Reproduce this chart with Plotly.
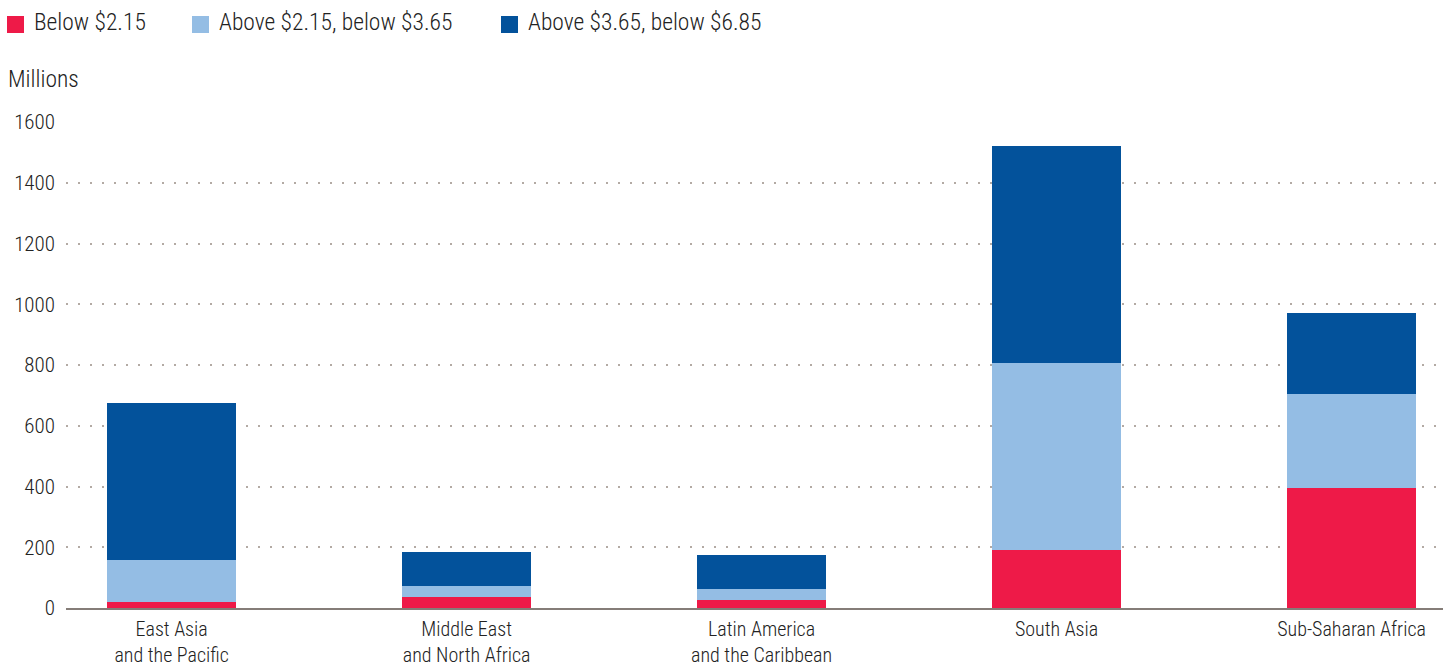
import plotly.graph_objects as go

categories = ["East Asia<br>and the Pacific", "Middle East<br>and North Africa",
              "Latin America<br>and the Caribbean", "South Asia", "Sub-Saharan Africa"]
below_215 = [20, 37, 27, 192, 394]
between_215_365 = [139, 36, 37, 616, 309]
between_365_685 = [517, 112, 112, 712, 267]

series_names = ["Below $2.15", "Above $2.15, below $3.65", "Above $3.65, below $6.85"]
series_colors = ["#EE1A48", "#94BDE4", "#03529B"]
y_ticks = [0, 200, 400, 600, 800, 1000, 1200, 1400, 1600]

FONT = "Roboto Condensed, Roboto, Liberation Sans Narrow, sans-serif"
TXT = "#222222"

W, H = 1443, 666
ML, MR, MT, MB = 66, 0, 122, 58
PW, PH = W - ML - MR, H - MT - MB


def px_x(px):
    return (px - ML) / PW


def px_y(py):
    return (H - MB - py) / PH


fig = go.Figure()
for name, vals, col in zip(series_names, [below_215, between_215_365, between_365_685], series_colors):
    fig.add_trace(go.Bar(x=categories, y=vals, name=name,
                         marker=dict(color=col, line=dict(width=0)), showlegend=False))

# manual legend (squares + labels) to match the reference spacing
legend_x = [7, 192, 501]
sq = 17
shapes = []
annotations = []
for lx, name, col in zip(legend_x, series_names, series_colors):
    shapes.append(dict(type="rect", xref="paper", yref="paper",
                       x0=px_x(lx), x1=px_x(lx + sq), y0=px_y(33), y1=px_y(16),
                       fillcolor=col, line=dict(width=0)))
    annotations.append(dict(text=name, xref="paper", yref="paper", x=px_x(lx + 25), y=px_y(22),
                            xanchor="left", yanchor="middle", showarrow=False,
                            font=dict(size=23.5, color=TXT)))
annotations.append(dict(text="Millions", xref="paper", yref="paper", x=px_x(6), y=px_y(79),
                        xanchor="left", yanchor="middle", showarrow=False,
                        font=dict(size=23.5, color=TXT)))

fig.update_layout(
    barmode="stack",
    bargap=0.563,
    width=W, height=H,
    margin=dict(l=ML, r=MR, t=MT, b=MB, autoexpand=False),
    paper_bgcolor="white", plot_bgcolor="white",
    font=dict(family=FONT, size=21, color=TXT, weight=300),
    showlegend=False,
    xaxis=dict(type="category", range=[-0.358, 4.31], showgrid=False, automargin=False,
               showline=True, linecolor="#857d78", linewidth=2, ticks="",
               tickfont=dict(size=20), ticklabelstandoff=2, fixedrange=True),
    yaxis=dict(range=[0, 1600], tickvals=y_ticks, showgrid=True, gridcolor="#b3aaa4", automargin=False,
               griddash="2px,10px", gridwidth=2, zeroline=False, showline=False, ticks="",
               ticklabelstandoff=10, tickfont=dict(size=21)),
    shapes=shapes,
    annotations=annotations,
)

fig.write_html("out.html")
